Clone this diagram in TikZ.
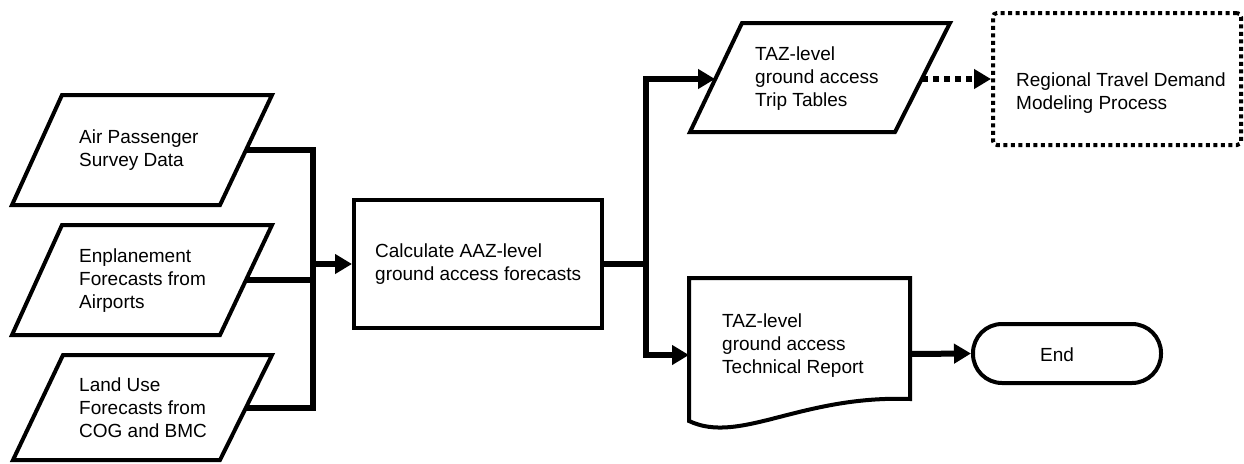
\documentclass[tikz,border=0pt]{standalone}
\usepackage{fontspec}
\setmainfont{Liberation Sans}
\usetikzlibrary{arrows.meta}
\newcommand{\mlines}[1]{\begin{tabular}[t]{@{}l@{}}#1\end{tabular}}
\begin{document}
\begin{tikzpicture}[x=1pt,y=-1pt,
  shapeline/.style={line width=4pt, line join=miter},
  conn/.style={line width=6pt},
  arr/.style={line width=6pt, -{Triangle[length=17pt,width=19pt]}},
  dotarr/.style={line width=6pt, dash pattern=on 6pt off 5pt, -{Triangle[length=17pt,width=19pt]}},
  dotbox/.style={draw, line width=4pt, dash pattern=on 4pt off 3.5pt, rounded corners=4pt, inner sep=0pt},
  txt/.style={anchor=base west, inner sep=0pt, font=\fontsize{19}{23}\selectfont},
  boxnode/.style={draw, shapeline, inner sep=0pt}]
\fill[white] (0,0) rectangle (1244,463);
\useasboundingbox (0,0) rectangle (1244,463);

% input parallelograms
\draw[shapeline] (62,95) -- (272,95) -- (220,205) -- (12,205) -- cycle;
\draw[shapeline] (62,225) -- (272,225) -- (220,335) -- (12,335) -- cycle;
\draw[shapeline] (63,355) -- (272,355) -- (220,460) -- (13,460) -- cycle;
\node[txt] (p1) at (79,143) {\mlines{Air Passenger\\Survey Data}};
\node[txt] (p2) at (79,262) {\mlines{Enplanement\\Forecasts from\\Airports}};
\node[txt] (p3) at (79,391) {\mlines{Land Use\\Forecasts from\\COG and BMC}};
\coordinate (p1r) at (246,150);
\coordinate (p2r) at (246,280);
\coordinate (p3r) at (246,408);
\coordinate (busL) at (313,264);

% main process
\node[boxnode, minimum width=248pt, minimum height=128pt] (calc) at (478,264) {};
\node[txt] (calct) at (375,257) {\mlines{Calculate AAZ-level\\ground access forecasts}};

\draw[conn] (p1r) -| (busL) |- (p3r);
\draw[conn] (p2r) -- (p2r -| busL);
\draw[arr] (busL) -- (calc.west);

% trip tables
\draw[shapeline] (742,23) -- (950,23) -- (895,132) -- (690,132) -- cycle;
\node[txt] (trip) at (755,60) {\mlines{TAZ-level\\ground access\\Trip Tables}};
\coordinate (tripin) at (715,79);
\coordinate (tripout) at (922,79);

% regional model
\node[dotbox, minimum width=248pt, minimum height=132pt] (reg) at (1117,79) {};
\node[txt] (regt) at (1016,86) {\mlines{Regional Travel Demand\\Modeling Process}};
\draw[dotarr] (tripout) -- (reg.west);

% report
\draw[shapeline] (689,278) -- (910,278) -- (910,399) .. controls (800,395) and (740,445) .. (689,421) -- cycle;
\node[txt] (rep) at (722,327) {\mlines{TAZ-level\\ground access\\Technical Report}};
\coordinate (repin) at (689,355);
\coordinate (repout) at (910,354);

% end
\node[boxnode, rounded corners=29pt, minimum width=188pt, minimum height=59pt] (end) at (1067,353.5) {};
\node[anchor=base, inner sep=0pt, font=\fontsize{19}{23}\selectfont] (endt) at (1057,361) {End};

% right connectors
\coordinate (busR) at (646,264);
\draw[conn] (calc.east) -- (busR);
\draw[arr] (busR) |- (tripin);
\draw[arr] (busR) |- (repin);
\draw[arr] (repout) -- (end.west);
\end{tikzpicture}
\end{document}
